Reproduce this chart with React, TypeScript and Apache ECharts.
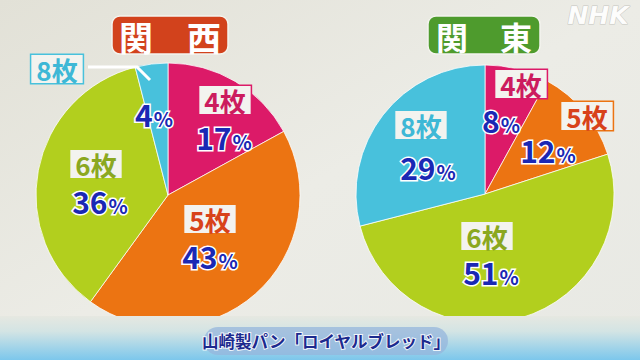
import React, { useEffect, useRef } from "react";
import * as echarts from "echarts";

// ---- data ----
const categories = ["4枚", "5枚", "6枚", "8枚"];
const kansaiValues = [17, 43, 36, 4];
const kantoValues = [8, 12, 51, 29];
const regions = ["関西", "関東"];
const caption = "山崎製パン「ロイヤルブレッド」";
const logo = "NHK";

// ---- styles / layout (not data) ----
const sliceColors = ["#DC1A68", "#EC7412", "#B2CF1E", "#48C1DC"];
const nameColors = ["#CC1C5E", "#D8421A", "#8BA81F", "#3EB8D6"];
const FONT = '"Noto Sans CJK JP", "Noto Sans", sans-serif';

const pies = [
  { center: [168, 195], radius: 132, title: { x: 170, w: 116, fill: "#D2421C", size: 34 } },
  { center: [485, 194], radius: 129, title: { x: 484, w: 112, fill: "#4E9B2D", size: 32 } },
];
const namePos = [
  [[225, 100], [210, 219], [96, 164], [57, 69]],
  [[521, 84], [587, 116], [487, 236], [421, 125]],
];
const pctPos = [
  [[224, 137], [210, 256], [100, 201], [154, 114]],
  [[501, 120], [548, 150], [491, 272], [428, 167]],
];
const leaderLine = [[150, 80], [137, 67], [88, 67]];

export default function App() {
  const ref = useRef<HTMLDivElement>(null);

  useEffect(() => {
    if (!ref.current) return;
    const chart = echarts.init(ref.current, null, { renderer: "svg" });
    const valueSets = [kansaiValues, kantoValues];

    const series: any[] = [];
    valueSets.forEach((vals, pi) => {
      const p = pies[pi];
      // coloured pie with percentage labels
      series.push({
        type: "pie",
        center: p.center,
        radius: [0, p.radius],
        startAngle: 90,
        clockwise: true,
        avoidLabelOverlap: false,
        z: 2,
        silent: true,
        itemStyle: { borderColor: "rgba(255,255,255,0.75)", borderWidth: 1 },
        data: categories.map((c, i) => ({
          name: c,
          value: vals[i],
          itemStyle: { color: sliceColors[i] },
        })),
        label: {
          show: true,
          position: "inside",
          formatter: (prm: any) => `{d|${prm.value}}{u|%}`,
          rich: {
            d: {
              fontFamily: FONT,
              fontSize: 30,
              fontWeight: "bold",
              color: "#1A28B4",
              textBorderColor: "#ffffff",
              textBorderWidth: 3,
              lineHeight: 30,
              verticalAlign: "bottom",
            },
            u: {
              fontFamily: FONT,
              fontSize: 20,
              fontWeight: "bold",
              color: "#1A28B4",
              textBorderColor: "#ffffff",
              textBorderWidth: 3,
              lineHeight: 30,
              verticalAlign: "bottom",
              padding: [0, 0, 1, 1],
            },
          },
        },
        labelLine: { show: false },
        labelLayout: (prm: any) => {
          const q = pctPos[pi][prm.dataIndex];
          return { x: q[0], y: q[1], align: "center", verticalAlign: "middle" };
        },
      });
      // transparent overlay carrying the category labels
      series.push({
        type: "pie",
        center: p.center,
        radius: [0, p.radius],
        startAngle: 90,
        clockwise: true,
        avoidLabelOverlap: false,
        z: 3,
        silent: true,
        itemStyle: { color: "rgba(0,0,0,0)", borderWidth: 0 },
        data: categories.map((c, i) => ({
          name: c,
          value: vals[i],
          label: { color: nameColors[i], borderColor: sliceColors[i] },
          labelLine: {
            show: pi === 0 && i === 3,
            lineStyle: { color: "#ffffff", width: 3 },
          },
        })),
        label: {
          show: true,
          position: "outside",
          formatter: "{b}",
          fontFamily: FONT,
          fontSize: 26,
          fontWeight: "bold",
          backgroundColor: "#F3F3EF",
          borderWidth: 1.5,
          padding: [1, 5, 0, 5],
          lineHeight: 27,
        },
        labelLine: { show: false, length: 10, length2: 10 },
        labelLayout: (prm: any) => {
          const q = namePos[pi][prm.dataIndex];
          const out: any = { x: q[0], y: q[1], align: "center", verticalAlign: "middle" };
          if (pi === 0 && prm.dataIndex === 3) out.labelLinePoints = leaderLine;
          return out;
        },
      });
    });

    const graphic: any[] = [];
    pies.forEach((p, pi) => {
      graphic.push({
        type: "rect",
        shape: { x: p.title.x - p.title.w / 2, y: 16, width: p.title.w, height: 38, r: 8 },
        style: { fill: p.title.fill, stroke: "#F4F4EE", lineWidth: 1.5 },
        z: 10,
      });
      graphic.push({
        type: "text",
        x: p.title.x,
        y: 36,
        style: {
          text: regions[pi].split("").join("　"),
          fill: "#ffffff",
          fontFamily: FONT,
          fontSize: p.title.size,
          fontWeight: "bold",
          align: "center",
          verticalAlign: "middle",
        },
        z: 11,
      });
    });
    // bottom band
    graphic.push({
      type: "rect",
      shape: { x: 0, y: 316, width: 640, height: 44 },
      style: {
        fill: new echarts.graphic.LinearGradient(0, 0, 0, 1, [
          { offset: 0, color: "#E6E8E1" },
          { offset: 0.35, color: "#D3E4E4" },
          { offset: 1, color: "#7CC7EC" },
        ]),
      },
      z: 10,
    });
    graphic.push({
      type: "rect",
      shape: { x: 204, y: 327, width: 244, height: 28, r: 14 },
      style: { fill: "rgba(150,182,220,0.75)" },
      z: 11,
    });
    graphic.push({
      type: "text",
      x: 326,
      y: 341,
      style: {
        text: caption,
        fill: "#1C2A8E",
        stroke: "rgba(255,255,255,0.85)",
        lineWidth: 2,
        fontFamily: FONT,
        fontSize: 16.5,
        fontWeight: "bold",
        align: "center",
        verticalAlign: "middle",
      },
      z: 12,
    });
    graphic.push({
      type: "text",
      x: 598,
      y: 15,
      style: {
        text: logo,
        fill: "rgba(255,255,255,0.93)",
        stroke: "rgba(170,170,165,0.6)",
        lineWidth: 1,
        fontFamily: '"DejaVu Sans", sans-serif',
        fontSize: 25,
        fontWeight: "bold",
        fontStyle: "italic",
        align: "center",
        verticalAlign: "middle",
      },
      z: 12,
    });

    chart.setOption({
      animation: false,
      backgroundColor: new echarts.graphic.LinearGradient(0, 0, 1, 1, [
        { offset: 0, color: "#E2E1D7" },
        { offset: 0.5, color: "#ECECE6" },
        { offset: 1, color: "#E8E9E4" },
      ]),
      series,
      graphic,
    });
    return () => chart.dispose();
  }, []);

  return (
    <div
      ref={ref}
      style={{ position: "absolute", left: 0, top: 0, width: 640, height: 360 }}
    />
  );
}
